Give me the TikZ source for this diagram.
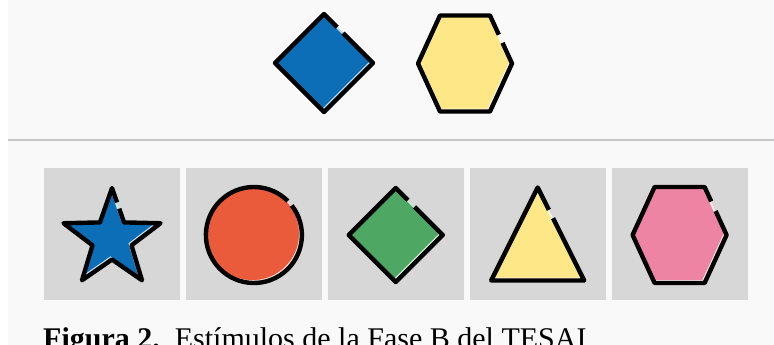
\documentclass[tikz,border=0pt]{standalone}
\usepackage{fontspec}
\setmainfont{Liberation Serif}
\usepackage{xcolor}
\usetikzlibrary{positioning, calc}

\definecolor{stimblue}{HTML}{0B6EB6}
\definecolor{stimyellow}{HTML}{FDE787}
\definecolor{stimred}{HTML}{EA5B3B}
\definecolor{stimgreen}{HTML}{4EA864}
\definecolor{stimpink}{HTML}{EE84A3}
\definecolor{panelgray}{HTML}{D7D7D7}
\definecolor{bggray}{HTML}{F9F9F9}
\definecolor{rulegray}{HTML}{C6C6C6}

\begin{document}
\begin{tikzpicture}[
  x=1pt, y=-1pt,
  panel/.style={fill=panelgray, minimum width=136pt, minimum height=132pt,
                inner sep=0pt},
  outline/.style={draw=black, line width=4.4pt, line join=round},
  inner/.style={fill=#1, draw=#1!20!white, line width=2.6pt, shift={(-1.5,-1.5)}},
  diamond path/.style={insert path={(0,-#1) -- (#1,0) -- (0,#1) -- (-#1,0) -- cycle}},
  hexa path/.style={insert path={(-25,-48) -- (25,-48) -- (47,0) -- (25,48)
                                 -- (-25,48) -- (-47,0) -- cycle}},
  star path/.style={insert path={(-90:51) -- (-54:20.5) -- (-18:51) -- (18:20.5)
                                 -- (54:51) -- (90:20.5) -- (126:51) -- (162:20.5)
                                 -- (198:51) -- (234:20.5) -- cycle}},
  tri path/.style={insert path={(0,-46.5) -- (46.5,46.5) -- (-46.5,46.5) -- cycle}},
]
\useasboundingbox (0,0) rectangle (774,345);
\fill[white] (0,0) rectangle (774,345);
\fill[bggray] (8,0) rectangle (774,345);

%% ---------- Sample row ------------------------------------------
\coordinate (tdiam) at (324,63);
\coordinate (thex)  at (465,63.5);

\begin{scope}[shift={(tdiam)}]
  \begin{scope}
    \clip[diamond path=49];
    \filldraw[inner=stimblue, diamond path=49];
  \end{scope}
  \draw[outline] ($(0,-49)!0.39!(49,0)$) -- (49,0) -- (0,49) -- (-49,0)
                 -- (0,-49) -- ($(0,-49)!0.27!(49,0)$);
\end{scope}

\begin{scope}[shift={(thex)}]
  \begin{scope}
    \clip[hexa path];
    \filldraw[inner=stimyellow, hexa path];
  \end{scope}
  \draw[outline] ($(25,-48)!0.57!(47,0)$) -- (47,0) -- (25,48) -- (-25,48)
                 -- (-47,0) -- (-25,-48) -- (25,-48) -- ($(25,-48)!0.4!(47,0)$);
\end{scope}

%% ---------- Separator -------------------------------------------
\draw[rulegray, line width=2pt] (8,140) -- (774,140);

%% ---------- Comparison row --------------------------------------
\node[panel] (p1) at (112,234) {};
\node[panel, right=5.5pt of p1] (p2) {};
\node[panel, right=5.5pt of p2] (p3) {};
\node[panel, right=5.5pt of p3] (p4) {};
\node[panel, right=5.5pt of p4] (p5) {};

% star
\begin{scope}[shift={($(p1.center)+(0,5)$)}]
  \begin{scope}
    \clip[star path];
    \filldraw[inner=stimblue, star path];
  \end{scope}
  \draw[outline] ($(-90:51)!0.6!(-54:20.5)$) -- (-54:20.5) -- (-18:51)
                 -- (18:20.5) -- (54:51) -- (90:20.5) -- (126:51) -- (162:20.5)
                 -- (198:51) -- (234:20.5) -- (-90:51)
                 -- ($(-90:51)!0.42!(-54:20.5)$);
\end{scope}

% circle
\begin{scope}[shift={($(p2.center)+(0,1)$)}]
  \begin{scope}
    \clip (0,0) circle[radius=48];
    \filldraw[inner=stimred] (0,0) circle[radius=48];
  \end{scope}
  \draw[outline] (-38:48) arc[start angle=-38, end angle=315, radius=48];
\end{scope}

% diamond
\begin{scope}[shift={($(p3.center)+(0,1)$)}]
  \begin{scope}
    \clip[diamond path=47];
    \filldraw[inner=stimgreen, diamond path=47];
  \end{scope}
  \draw[outline] ($(0,-47)!0.4!(47,0)$) -- (47,0) -- (0,47) -- (-47,0)
                 -- (0,-47) -- ($(0,-47)!0.26!(47,0)$);
\end{scope}

% triangle
\begin{scope}[shift={(p4.center)}]
  \begin{scope}
    \clip[tri path];
    \filldraw[inner=stimyellow, tri path];
  \end{scope}
  \draw[outline] ($(0,-46.5)!0.33!(46.5,46.5)$) -- (46.5,46.5) -- (-46.5,46.5)
                 -- (0,-46.5) -- ($(0,-46.5)!0.24!(46.5,46.5)$);
\end{scope}

% hexagon
\begin{scope}[shift={($(p5.center)+(0,1)$)}]
  \begin{scope}
    \clip[hexa path];
    \filldraw[inner=stimpink, hexa path];
  \end{scope}
  \draw[outline] ($(25,-48)!0.5!(47,0)$) -- (47,0) -- (25,48) -- (-25,48)
                 -- (-47,0) -- (-25,-48) -- (25,-48) -- ($(25,-48)!0.3!(47,0)$);
\end{scope}

%% ---------- Caption ---------------------------------------------
\node[anchor=base west, inner sep=0pt, font=\fontsize{30}{36}\selectfont]
      (caption) at (43,348) {\textbf{Figura 2.}\hspace{0.5em}Estímulos de la Fase B del TESAI};
\end{tikzpicture}
\end{document}
